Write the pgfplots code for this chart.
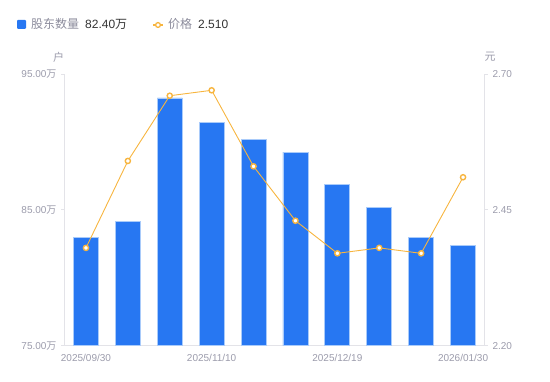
\documentclass[border=0pt]{standalone}
\usepackage{pgfplots}
\pgfplotsset{compat=1.18}
\usepackage{fontspec}
\setmainfont{Liberation Sans}
\newfontfamily\cjk{Noto Sans CJK SC}
\definecolor{barblue}{HTML}{2777F2}
\definecolor{baredge}{HTML}{A9CBFA}
\definecolor{lineor}{HTML}{F7B53F}
\definecolor{tickgray}{HTML}{9B9BAB}
\definecolor{axgray}{HTML}{E3E3E8}
\definecolor{legendgray}{HTML}{8C8C9C}
\definecolor{darktext}{HTML}{333333}
\pgfplotstableread{
x holders
0 83.00
1 84.12
2 93.24
3 91.43
4 90.18
5 89.24
6 86.89
7 85.20
8 82.97
9 82.40
}\holders
\pgfplotstableread{
x price
0 2.38
1 2.54
2 2.66
3 2.67
4 2.53
5 2.43
6 2.37
7 2.38
8 2.37
9 2.51
}\price
\begin{document}
\begin{tikzpicture}[x=1pt,y=1pt]
\path (0,0) rectangle (550,381);
\begin{axis}[
  at={(65pt,35.3pt)}, anchor=south west,
  width=419pt, height=271.7pt, scale only axis,
  xmin=-0.5, xmax=9.5, ymin=75, ymax=95,
  axis x line*=bottom, axis y line*=left,
  axis line style={draw=axgray, line width=1pt},
  xtick={0,3,6,9},
  xticklabels={2025/09/30,2025/11/10,2025/12/19,2026/01/30},
  x tick style={draw=none},
  ytick={75,85,95},
  yticklabels={75.00{\cjk 万},85.00{\cjk 万},95.00{\cjk 万}},
  y tick style={draw=axgray, line width=0.8pt},
  tick align=outside, major tick length=4pt,
  tick label style={font=\fontsize{10}{12}\selectfont, text=tickgray},
  yticklabel style={xshift=-1pt},
  xticklabel style={yshift=-1pt},
  clip=false,
]
\addplot[ybar, bar width=25pt, fill=barblue, draw=baredge, line width=0.8pt, bar shift=0pt] table[x=x,y=holders]{\holders};
\end{axis}
\begin{axis}[
  at={(65pt,35.3pt)}, anchor=south west,
  width=419pt, height=271.7pt, scale only axis,
  xmin=-0.5, xmax=9.5, ymin=2.2, ymax=2.7,
  axis x line=none, axis y line*=right,
  axis line style={draw=axgray, line width=1pt},
  ytick={2.2,2.45,2.7},
  yticklabels={2.20,2.45,2.70},
  y tick style={draw=axgray, line width=0.8pt},
  tick align=outside, major tick length=4pt,
  tick label style={font=\fontsize{10}{12}\selectfont, text=tickgray},
  yticklabel style={xshift=1pt},
  clip=false,
]
\addplot[color=lineor, line width=0.9pt, mark=*, mark size=2.6pt,
  mark options={fill=white, draw=lineor, line width=1.4pt}] table[x=x,y=price]{\price};
\end{axis}
% unit labels
\node[font=\cjk\fontsize{11}{13}\selectfont, text=tickgray, inner sep=0] at (58.5,324) {户};
\node[font=\cjk\fontsize{11}{13}\selectfont, text=tickgray, inner sep=0] at (490,324) {元};
% legend
\fill[barblue, rounded corners=1pt] (17,352) rectangle (26,361);
\node[anchor=base west, inner sep=0, font=\cjk\fontsize{12}{14}\selectfont, text=legendgray] at (31,352) {股东数量};
\node[anchor=base west, inner sep=0, font=\fontsize{12}{14}\selectfont, text=darktext] at (85,352) {82.40{\cjk 万}};
\draw[lineor, line width=1.2pt] (153,356) -- (163,356);
\draw[lineor, fill=white, line width=1.3pt] (158,356) circle (2.4);
\node[anchor=base west, inner sep=0, font=\cjk\fontsize{12}{14}\selectfont, text=legendgray] at (168,352) {价格};
\node[anchor=base west, inner sep=0, font=\fontsize{12}{14}\selectfont, text=darktext] at (198,352) {2.510};
\end{tikzpicture}
\end{document}
